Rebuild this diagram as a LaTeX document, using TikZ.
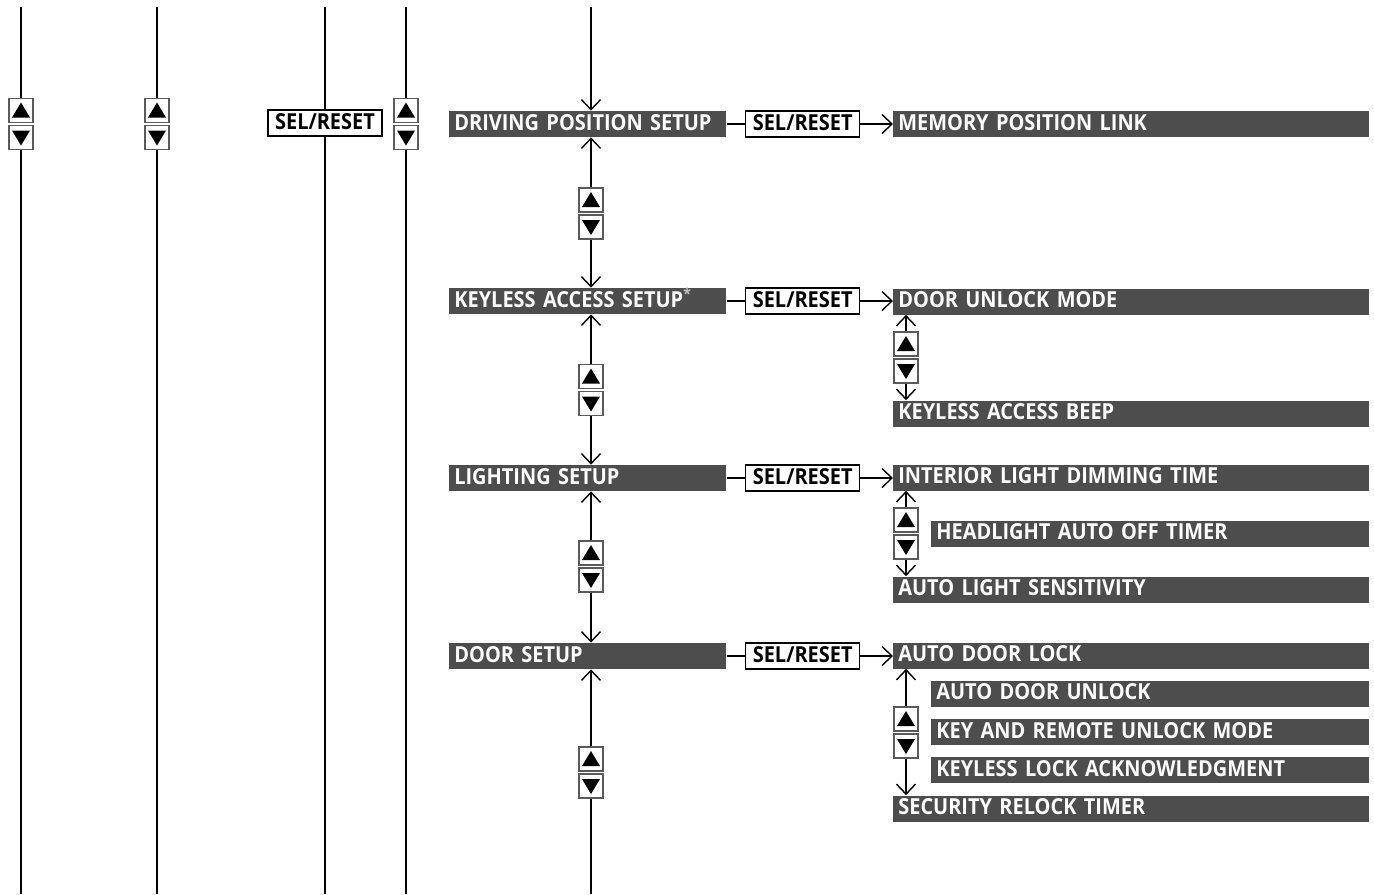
\documentclass[tikz,border=0pt]{standalone}
\usepackage{fontspec}
\setsansfont[FakeStretch=0.905]{Open Sans}
\usepackage{tikz}
\usetikzlibrary{arrows.meta,positioning}
\definecolor{barcol}{HTML}{4D4D4D}
\definecolor{btnedge}{HTML}{5A5A5A}
\newcommand{\menufont}{\fontsize{12.55pt}{14pt}\selectfont\sffamily\bfseries}
\newcommand{\menubar}[4]{\node[bar,text width=#4] at (#2) (#1) {#3};}
\newcommand{\selbox}[2]{\node[selreset] at (#2) (#1) {SEL/RESET};}
\newcommand{\updown}[3]{\node[btn] at (#2,{#3-13.5}) (#1u) {};
\node[btn] at (#2,{#3+13.5}) (#1d) {};
\fill (#1u.center) ++(0,-8) -- ++(9,15) -- ++(-18,0) -- cycle;
\fill (#1d.center) ++(0,8) -- ++(9,-15) -- ++(-18,0) -- cycle;}

\begin{document}
\begin{tikzpicture}[x=0.02cm,y=-0.02cm,
  bar/.style={fill=barcol,text=white,anchor=west,font=\menufont,inner xsep=1mm,inner ysep=0pt,text height=3.8mm,text depth=1.4mm,align=left},
  selreset/.style={draw,line width=0.8pt,fill=white,anchor=west,font=\menufont,minimum width=2.28cm,inner xsep=0pt,inner ysep=0pt,text height=3.8mm,text depth=1.4mm},
  btn/.style={draw=btnedge,line width=0.8pt,fill=white,minimum size=4.8mm,inner sep=0pt},
  wire/.style={line width=1.1pt},
  arr/.style={wire,-{Straight Barb[length=2mm,width=3.8mm,line width=0.8pt]}}]
\useasboundingbox (0,0) rectangle (1374,894);

% left columns
\updown{la}{21}{124}
\updown{lb}{157}{124}
\updown{lc}{406}{124}
\node[selreset,anchor=center] at (325,123) (ls) {SEL/RESET};
\coordinate (latop) at (21,7);   \coordinate (labot) at (21,894);
\coordinate (lbtop) at (157,7);  \coordinate (lbbot) at (157,894);
\coordinate (lstop) at (325,7);  \coordinate (lsbot) at (325,894);
\coordinate (lctop) at (406,7);  \coordinate (lcbot) at (406,894);
\draw[wire] (latop) -- (lau.north) (lad.south) -- (labot);
\draw[wire] (lbtop) -- (lbu.north) (lbd.south) -- (lbbot);
\draw[wire] (lstop) -- (ls.north) (ls.south) -- (lsbot);
\draw[wire] (lctop) -- (lcu.north) (lcd.south) -- (lcbot);

% main menu
\menubar{dps}{449,124}{DRIVING POSITION SETUP}{5.34cm}
\menubar{kas}{449,301}{KEYLESS ACCESS SETUP\textsuperscript{\color{white!75!black}*}}{5.34cm}
\menubar{lgs}{449,478}{LIGHTING SETUP}{5.34cm}
\menubar{drs}{449,656}{DOOR SETUP}{5.34cm}

\updown{ma}{591}{213.5}
\updown{mb}{591}{390}
\updown{mc}{591}{566.5}
\updown{md}{591}{772.5}

\coordinate (mtop) at (591,7);
\coordinate (mbot) at (591,894);
\draw[arr] (mtop) -- (mtop |- dps.north);
\draw[arr] (mau.north) -- (mau.north |- dps.south);
\draw[arr] (mad.south) -- (mad.south |- kas.north);
\draw[arr] (mbu.north) -- (mbu.north |- kas.south);
\draw[arr] (mbd.south) -- (mbd.south |- lgs.north);
\draw[arr] (mcu.north) -- (mcu.north |- lgs.south);
\draw[arr] (mcd.south) -- (mcd.south |- drs.north);
\draw[arr] (mdu.north) -- (mdu.north |- drs.south);
\draw[wire] (mdd.south) -- (mbot);

% SEL/RESET links
\selbox{s1}{745,124}
\selbox{s2}{745,301}
\selbox{s3}{745,478}
\selbox{s4}{745,656}

% sub menus
\menubar{mpl}{893,124}{MEMORY POSITION LINK}{9.32cm}
\menubar{dum}{893,301.5}{DOOR UNLOCK MODE}{9.32cm}
\menubar{kab}{893,413.5}{KEYLESS ACCESS BEEP}{9.32cm}
\menubar{ild}{893,477.5}{INTERIOR LIGHT DIMMING TIME}{9.32cm}
\menubar{hao}{931,533.5}{HEADLIGHT AUTO OFF TIMER}{8.56cm}
\menubar{als}{893,589.5}{AUTO LIGHT SENSITIVITY}{9.32cm}
\menubar{adl}{893,655.5}{AUTO DOOR LOCK}{9.32cm}
\menubar{adu}{931,693.5}{AUTO DOOR UNLOCK}{8.56cm}
\menubar{kru}{931,732}{KEY AND REMOTE UNLOCK MODE}{8.56cm}
\menubar{kla}{931,770}{KEYLESS LOCK ACKNOWLEDGMENT}{8.56cm}
\menubar{srt}{893,808.5}{SECURITY RELOCK TIMER}{9.32cm}

\draw[wire] (dps.east) -- (s1.west);
\draw[arr] (s1.east) -- (s1.east -| mpl.west);
\draw[wire] (kas.east) -- (s2.west);
\draw[arr] (s2.east) -- (s2.east -| dum.west);
\draw[wire] (lgs.east) -- (s3.west);
\draw[arr] (s3.east) -- (s3.east -| ild.west);
\draw[wire] (drs.east) -- (s4.west);
\draw[arr] (s4.east) -- (s4.east -| adl.west);

\updown{ra}{906}{357.5}
\updown{rb}{906}{533.5}
\updown{rc}{906}{732.5}

\draw[arr] (rau.north) -- (rau.north |- dum.south);
\draw[arr] (rad.south) -- (rad.south |- kab.north);
\draw[arr] (rbu.north) -- (rbu.north |- ild.south);
\draw[arr] (rbd.south) -- (rbd.south |- als.north);
\draw[arr] (rcu.north) -- (rcu.north |- adl.south);
\draw[arr] (rcd.south) -- (rcd.south |- srt.north);
\end{tikzpicture}
\end{document}
